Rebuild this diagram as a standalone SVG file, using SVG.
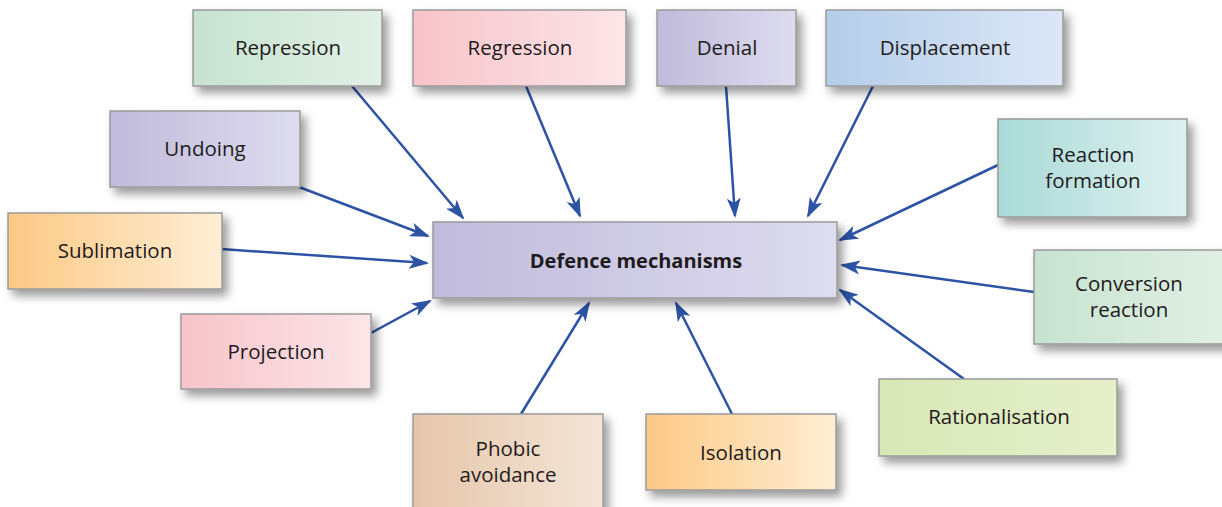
<svg xmlns="http://www.w3.org/2000/svg" width="1222" height="507" viewBox="0 0 1222 507">
  <defs>
    <filter id="shadow" x="-20%" y="-30%" width="150%" height="180%">
      <feDropShadow dx="5" dy="6" stdDeviation="5" flood-color="#000" flood-opacity="0.4"/>
    </filter>
    <linearGradient id="g-green" x1="0" x2="1" y1="0" y2="0">
      <stop offset="0" stop-color="#c6e3d0"/><stop offset="1" stop-color="#e2f0e6"/>
    </linearGradient>
    <linearGradient id="g-pink" x1="0" x2="1" y1="0" y2="0">
      <stop offset="0" stop-color="#f7c4ca"/><stop offset="1" stop-color="#fce5e8"/>
    </linearGradient>
    <linearGradient id="g-lilac" x1="0" x2="1" y1="0" y2="0">
      <stop offset="0" stop-color="#c0bbdb"/><stop offset="1" stop-color="#dedcef"/>
    </linearGradient>
    <linearGradient id="g-blue" x1="0" x2="1" y1="0" y2="0">
      <stop offset="0" stop-color="#b4cdea"/><stop offset="1" stop-color="#dce7f6"/>
    </linearGradient>
    <linearGradient id="g-teal" x1="0" x2="1" y1="0" y2="0">
      <stop offset="0" stop-color="#a9dad7"/><stop offset="1" stop-color="#def1f0"/>
    </linearGradient>
    <linearGradient id="g-orange" x1="0" x2="1" y1="0" y2="0">
      <stop offset="0" stop-color="#fdc985"/><stop offset="1" stop-color="#feeed4"/>
    </linearGradient>
    <linearGradient id="g-lime" x1="0" x2="1" y1="0" y2="0">
      <stop offset="0" stop-color="#d8e7b6"/><stop offset="1" stop-color="#e6f0cb"/>
    </linearGradient>
    <linearGradient id="g-tan" x1="0" x2="1" y1="0" y2="0">
      <stop offset="0" stop-color="#e5c6aa"/><stop offset="1" stop-color="#f4e5d7"/>
    </linearGradient>
    <marker id="arrow" viewBox="0 0 20 14" refX="18" refY="7" markerWidth="20" markerHeight="14" markerUnits="userSpaceOnUse" orient="auto">
      <path d="M0,0 L20,7 L0,14 L5,7 Z" fill="#2c53a4"/>
    </marker>
  </defs>
  <style>
    .box { stroke: #9a9a9a; stroke-width: 1.5; filter: url(#shadow); }
    .label { font-family: "Open Sans", "Noto Sans", sans-serif; font-size: 20.5px; fill: #1f1b1c; text-anchor: middle; }
    .title { font-weight: bold; font-size: 20px; }
    .conn line { stroke: #2c53a4; stroke-width: 2.5; marker-end: url(#arrow); }
  </style>
  <rect width="1222" height="507" fill="#ffffff"/>

  <g id="connectors" class="conn">
    <line x1="352" y1="86" x2="463" y2="218"/>
    <line x1="526" y1="86" x2="580" y2="216"/>
    <line x1="726" y1="86" x2="735" y2="216"/>
    <line x1="873" y1="86" x2="808" y2="216"/>
    <line x1="299" y1="187" x2="428" y2="236"/>
    <line x1="998" y1="165" x2="840" y2="240"/>
    <line x1="221" y1="249" x2="427" y2="263"/>
    <line x1="1034" y1="292" x2="842" y2="265"/>
    <line x1="371" y1="333" x2="430" y2="301"/>
    <line x1="964" y1="379" x2="840" y2="290"/>
    <line x1="521" y1="414" x2="589" y2="303"/>
    <line x1="732" y1="414" x2="676" y2="303"/>
  </g>

  <g id="defence-mechanisms">
    <rect class="box" x="433" y="222" width="404" height="76" fill="url(#g-lilac)"/>
    <text class="label title" x="636" y="268">Defence mechanisms</text>
  </g>
  <g id="repression">
    <rect class="box" x="193" y="10" width="189" height="76" fill="url(#g-green)"/>
    <text class="label" x="288" y="55">Repression</text>
  </g>
  <g id="regression">
    <rect class="box" x="413" y="10" width="213" height="76" fill="url(#g-pink)"/>
    <text class="label" x="520" y="55">Regression</text>
  </g>
  <g id="denial">
    <rect class="box" x="657" y="10" width="139" height="76" fill="url(#g-lilac)"/>
    <text class="label" x="727" y="55">Denial</text>
  </g>
  <g id="displacement">
    <rect class="box" x="826" y="10" width="237" height="76" fill="url(#g-blue)"/>
    <text class="label" x="945" y="55">Displacement</text>
  </g>
  <g id="undoing">
    <rect class="box" x="110" y="111" width="190" height="76" fill="url(#g-lilac)"/>
    <text class="label" x="205" y="156">Undoing</text>
  </g>
  <g id="reaction-formation">
    <rect class="box" x="998" y="119" width="189" height="98" fill="url(#g-teal)"/>
    <text class="label" x="1093" y="162">Reaction</text>
    <text class="label" x="1093" y="188">formation</text>
  </g>
  <g id="sublimation">
    <rect class="box" x="8" y="213" width="214" height="76" fill="url(#g-orange)"/>
    <text class="label" x="115" y="258">Sublimation</text>
  </g>
  <g id="conversion-reaction">
    <rect class="box" x="1034" y="250" width="196" height="94" fill="url(#g-green)"/>
    <text class="label" x="1129" y="291">Conversion</text>
    <text class="label" x="1129" y="317">reaction</text>
  </g>
  <g id="projection">
    <rect class="box" x="181" y="314" width="190" height="75" fill="url(#g-pink)"/>
    <text class="label" x="276" y="359">Projection</text>
  </g>
  <g id="rationalisation">
    <rect class="box" x="879" y="379" width="238" height="77" fill="url(#g-lime)"/>
    <text class="label" x="999" y="424">Rationalisation</text>
  </g>
  <g id="phobic-avoidance">
    <rect class="box" x="413" y="414" width="190" height="100" fill="url(#g-tan)"/>
    <text class="label" x="508" y="456">Phobic</text>
    <text class="label" x="508" y="482">avoidance</text>
  </g>
  <g id="isolation">
    <rect class="box" x="646" y="414" width="190" height="76" fill="url(#g-orange)"/>
    <text class="label" x="741" y="460">Isolation</text>
  </g>
</svg>
